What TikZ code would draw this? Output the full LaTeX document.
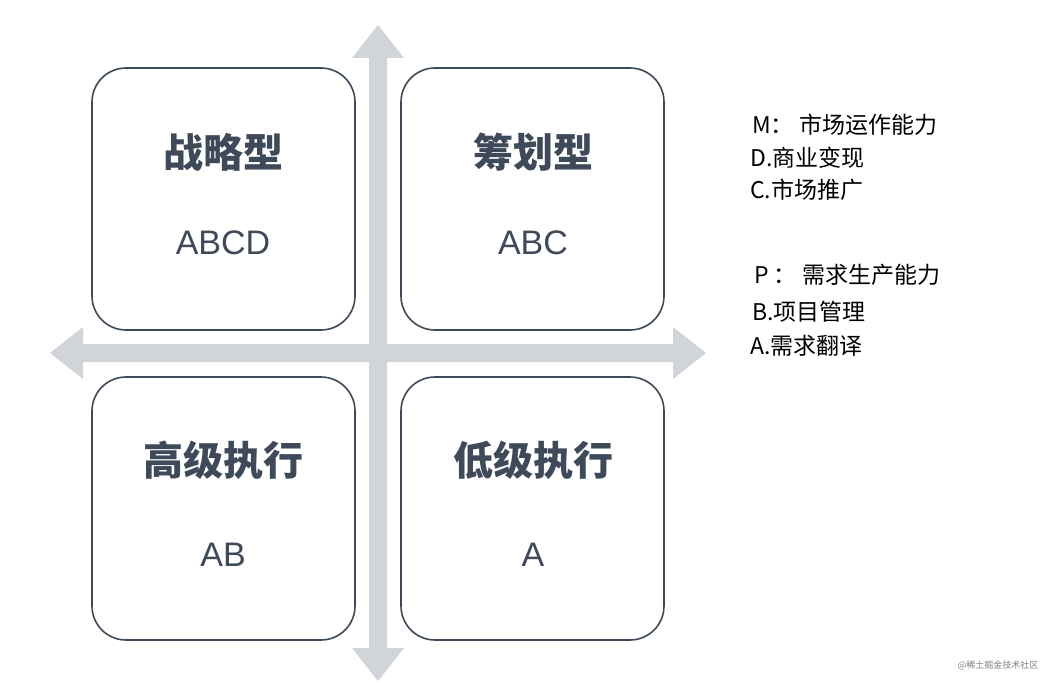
\documentclass[tikz,border=0pt]{standalone}
\usepackage{fontspec}
\setmainfont{Liberation Sans}
\newfontfamily\cjk{Noto Sans CJK SC}
\definecolor{dk}{HTML}{3E4A59}
\definecolor{ar}{HTML}{D1D4D8}
\begin{document}
\begin{tikzpicture}[x=1pt,y=-1pt,
  quad/.style={draw=dk,line width=1.6pt,fill=white,rounded corners=34pt},
  ttl/.style={font=\cjk\bfseries\fontsize{40}{44}\selectfont,text=dk},
  lett/.style={font=\fontsize{34}{38}\selectfont,text=dk},
  leg/.style={font=\cjk\fontsize{23}{26}\selectfont,anchor=west,inner sep=0pt}]
\useasboundingbox (0,0) rectangle (1055,685);
\fill[white] (0,0) rectangle (1055,685);
% arrows
\fill[ar] (378,25) -- (404,58) -- (387,58) -- (387,648) -- (404,648) -- (378,681) -- (352,648) -- (369,648) -- (369,58) -- (352,58) -- cycle;
\fill[ar] (50,353) -- (83,327) -- (83,344) -- (673,344) -- (673,327) -- (706,353) -- (673,379) -- (673,362) -- (83,362) -- (83,379) -- cycle;
% boxes
\draw[quad] (92,68) rectangle (355,330);
\draw[quad] (401,68) rectangle (664,330);
\draw[quad] (92,377) rectangle (355,640);
\draw[quad] (401,377) rectangle (664,640);
\node[ttl] (t1) at (223,152) {战略型};
\node[ttl] (t2) at (533,152) {筹划型};
\node[ttl] (t3) at (223,460) {高级执行};
\node[ttl] (t4) at (533,460) {低级执行};
\node[lett] (l1) at (223,243) {ABCD};
\node[lett] (l2) at (533,243) {ABC};
\node[lett] (l3) at (223,555) {AB};
\node[lett] (l4) at (533,555) {A};
\node[leg] (m) at (752,125) {M： 市场运作能力};
\node[leg] (d) at (750,158) {D.商业变现};
\node[leg] (c) at (750,190) {C.市场推广};
\node[leg] (p) at (754,275) {P ： 需求生产能力};
\node[leg] (b) at (752,312) {B.项目管理};
\node[leg] (a) at (750,346) {A.需求翻译};
\node[font=\cjk\fontsize{9}{10}\selectfont,text=gray,anchor=east] (w) at (1042,665) {@稀土掘金技术社区};
\end{tikzpicture}
\end{document}
